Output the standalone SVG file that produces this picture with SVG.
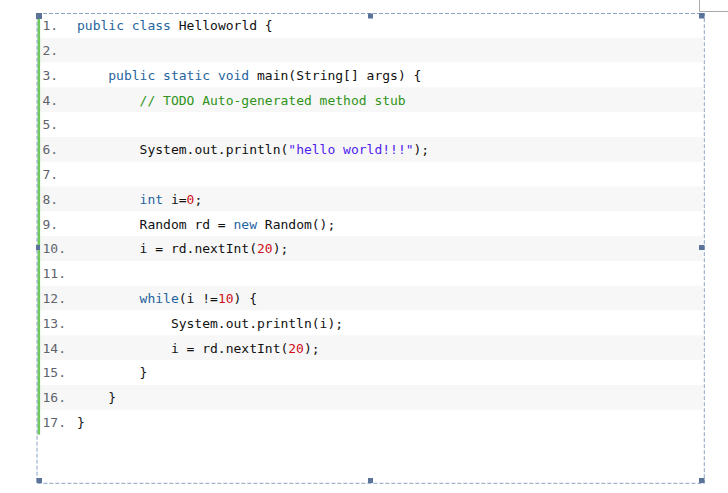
<svg xmlns="http://www.w3.org/2000/svg" width="728" height="493" viewBox="0 0 728 493">
<style>
.row{fill:#f7f7f7}
.ln{font-family:"DejaVu Sans Mono","Liberation Mono",monospace;font-size:13px;fill:#5f646c}
.code{font-family:"DejaVu Sans Mono","Liberation Mono",monospace;font-size:13px;fill:#111111}
.kw{fill:#1f649e}
.cm{fill:#2f9419}
.st{fill:#4f22f0}
.nu{fill:#d0101a}
.h{fill:#5b7398}
</style>
<rect width="728" height="493" fill="#ffffff"/>
<path d="M699.5 0 V11.5 H728" fill="none" stroke="#aaaaaa" stroke-width="1"/>
<g id="rows">
<rect class="row" x="40" y="37.7" width="663" height="24.8"/>
<rect class="row" x="40" y="87.3" width="663" height="24.8"/>
<rect class="row" x="40" y="136.9" width="663" height="24.8"/>
<rect class="row" x="40" y="186.5" width="663" height="24.8"/>
<rect class="row" x="40" y="236.1" width="663" height="24.8"/>
<rect class="row" x="40" y="285.7" width="663" height="24.8"/>
<rect class="row" x="40" y="335.3" width="663" height="24.8"/>
<rect class="row" x="40" y="384.9" width="663" height="24.8"/>
</g>
<rect id="gutter-bar" x="37.5" y="13" width="2.6" height="421.6" fill="#70c85e"/>
<g id="line-numbers">
<text class="ln" x="42.5" y="30.2">1.</text>
<text class="ln" x="42.5" y="55">2.</text>
<text class="ln" x="42.5" y="79.8">3.</text>
<text class="ln" x="42.5" y="104.6">4.</text>
<text class="ln" x="42.5" y="129.4">5.</text>
<text class="ln" x="42.5" y="154.2">6.</text>
<text class="ln" x="42.5" y="179">7.</text>
<text class="ln" x="42.5" y="203.8">8.</text>
<text class="ln" x="42.5" y="228.6">9.</text>
<text class="ln" x="42.5" y="253.4">10.</text>
<text class="ln" x="42.5" y="278.2">11.</text>
<text class="ln" x="42.5" y="303">12.</text>
<text class="ln" x="42.5" y="327.8">13.</text>
<text class="ln" x="42.5" y="352.6">14.</text>
<text class="ln" x="42.5" y="377.4">15.</text>
<text class="ln" x="42.5" y="402.2">16.</text>
<text class="ln" x="42.5" y="427">17.</text>
</g>
<g id="code" xml:space="preserve">
<text class="code" x="77" y="30.2"><tspan class="kw">public</tspan> <tspan class="kw">class</tspan> Helloworld {</text>
<text class="code" x="108.3" y="79.8"><tspan class="kw">public</tspan> <tspan class="kw">static</tspan> <tspan class="kw">void</tspan> main(String[] args) {</text>
<text class="code cm" x="139.6" y="104.6">// TODO Auto-generated method stub</text>
<text class="code" x="139.6" y="154.2">System.out.println(<tspan class="st">"hello world!!!"</tspan>);</text>
<text class="code" x="139.6" y="203.8"><tspan class="kw">int</tspan> i=<tspan class="nu">0</tspan>;</text>
<text class="code" x="139.6" y="228.6">Random rd = <tspan class="kw">new</tspan> Random();</text>
<text class="code" x="139.6" y="253.4">i = rd.nextInt(<tspan class="nu">20</tspan>);</text>
<text class="code" x="139.6" y="303"><tspan class="kw">while</tspan>(i !=<tspan class="nu">10</tspan>) {</text>
<text class="code" x="170.9" y="327.8">System.out.println(i);</text>
<text class="code" x="170.9" y="352.6">i = rd.nextInt(<tspan class="nu">20</tspan>);</text>
<text class="code" x="139.6" y="377.4">}</text>
<text class="code" x="108.3" y="402.2">}</text>
<text class="code" x="77" y="427">}</text>
</g>
<g id="selection">
<rect x="37" y="13.5" width="667.3" height="469.8" fill="none" stroke="#8aa3c4" stroke-width="1" stroke-dasharray="4 2"/>
<rect class="h" x="36" y="13" width="6" height="6"/>
<rect class="h" x="368" y="13.5" width="5" height="5"/>
<rect class="h" x="699" y="13" width="5.5" height="5.5"/>
<rect class="h" x="36" y="245" width="4" height="5"/>
<rect class="h" x="699" y="245" width="5.5" height="5"/>
<rect class="h" x="36.5" y="478" width="5.5" height="5"/>
<rect class="h" x="368" y="478" width="5" height="5"/>
<rect class="h" x="699" y="478" width="5.5" height="5"/>
</g>
</svg>
